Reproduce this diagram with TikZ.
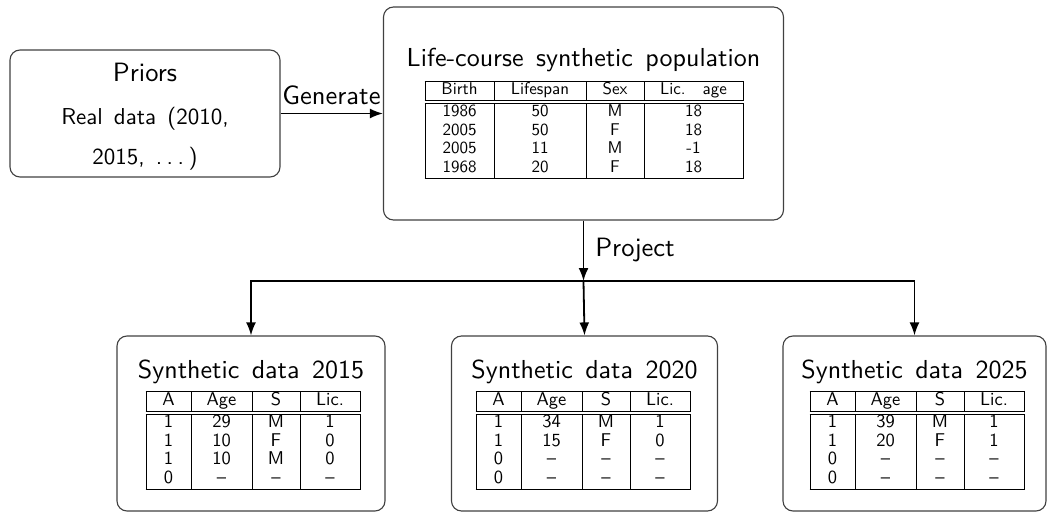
\documentclass[tikz,border=0pt]{standalone}
\usepackage{fontspec}
\setsansfont{lmsans10-regular.otf}
\usepackage{array}
\usetikzlibrary{arrows.meta}
\newcolumntype{C}[1]{>{\centering\arraybackslash}p{#1}}
\setlength{\tabcolsep}{0pt}
\setlength{\arrayrulewidth}{1pt}
\setlength{\doublerulesep}{1.5pt}
\newcommand{\sdtable}[1]{%
\begin{tabular}{|C{44pt}|C{60pt}|C{47pt}|C{59pt}|}\hline
A & Age & S & Lic.\\\hline\hline
#1\\\hline
\end{tabular}}
\newcommand{\mydots}{.\kern.2em.\kern.2em.\kern.2em}
\newcommand{\widesp}{\spaceskip 0.48em\relax}
\tikzset{
  box/.style={draw=black!75, line width=1.1pt, rounded corners=10pt, inner sep=0pt},
  arr/.style={line width=1.8pt, -{Latex[length=13pt,width=10pt]}},
  ttl/.style={font={\sffamily\fontsize{26}{30}\selectfont\widesp}, inner sep=0pt},
  lbl/.style={font={\sffamily\fontsize{26.5}{30}\selectfont}, inner sep=0pt},
  tbl/.style={inner sep=0pt, font={\sffamily\fontsize{17}{18.5}\selectfont}},
  stbl/.style={inner sep=0pt, font={\sffamily\fontsize{18.5}{18.5}\selectfont}},
}
\begin{document}
\begin{tikzpicture}[x=1pt,y=-1pt]
\useasboundingbox (0,0) rectangle (1047,513);
% boxes
\node[box, minimum width=270pt, minimum height=127pt] (priors) at (145,113.5) {};
\node[box, minimum width=400pt, minimum height=213pt] (life) at (583.5,113.5) {};
\node[box, minimum width=268pt, minimum height=175pt] (s15) at (251,423.5) {};
\node[box, minimum width=266pt, minimum height=175pt] (s20) at (584.5,423.5) {};
\node[box, minimum width=263pt, minimum height=175pt] (s25) at (914.5,423.5) {};
% priors text
\node[ttl, font={\sffamily\fontsize{26.5}{30}\selectfont}] (priorsT) at (145,72) {Priors};
\node[inner sep=0pt, align=center, font={\sffamily\fontsize{23}{40}\selectfont\widesp}] (realT) at (145,139) {Real data (2010,\\2015, \mydots)};
% life-course
\node[ttl] (lifeT) at (583.5,60) {Life-course synthetic population};
\node[tbl] (lifeTab) at (584,130) {%
\begin{tabular}{|C{68pt}|C{91pt}|C{57pt}|C{98pt}|}\hline
Birth & Lifespan & Sex & Lic.\quad age\\\hline\hline
1986 & 50 & M & 18\\
2005 & 50 & F & 18\\
2005 & 11 & M & -1\\
1968 & 20 & F & 18\\\hline
\end{tabular}};
% synthetic data boxes
\node[ttl] (t15) at (251,372) {Synthetic data 2015};
\node[ttl] (t20) at (584.5,372) {Synthetic data 2020};
\node[ttl] (t25) at (914.5,372) {Synthetic data 2025};
\node[stbl] (tab15) at (253,440.5) {\sdtable{1 & 29 & M & 1\\ 1 & 10 & F & 0\\ 1 & 10 & M & 0\\ 0 & -- & -- & --}};
\node[stbl] (tab20) at (583,440.5) {\sdtable{1 & 34 & M & 1\\ 1 & 15 & F & 0\\ 0 & -- & -- & --\\ 0 & -- & -- & --}};
\node[stbl] (tab25) at (917,440.5) {\sdtable{1 & 39 & M & 1\\ 1 & 20 & F & 1\\ 0 & -- & -- & --\\ 0 & -- & -- & --}};
% connectors
\draw[arr] (priors.east) -- (life.west);
\node[lbl] (gen) at (331.5,95) {Generate};
\coordinate (hub) at (583.5,281);
\draw[arr] (life.south) -- (hub);
\node[lbl] (proj) at (635,250) {Project};
\draw[arr] (hub) -| (s15.north);
\draw[arr] (hub) -| (s25.north);
\draw[arr] (hub) -- (s20.north);
\end{tikzpicture}
\end{document}
